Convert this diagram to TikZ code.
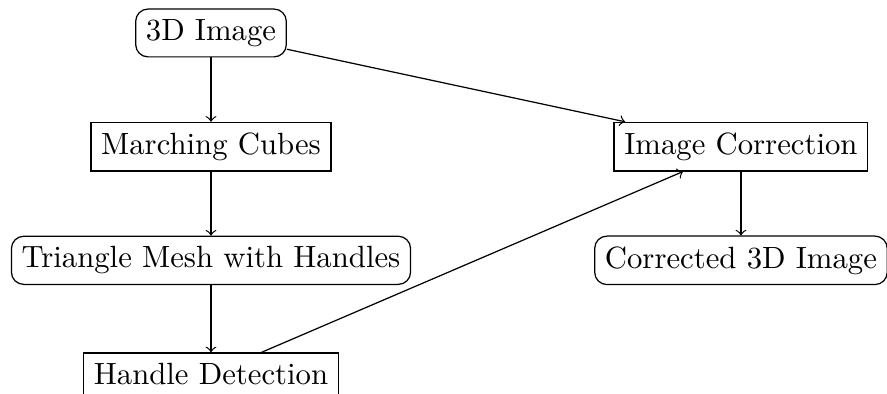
\documentclass[tikz,border=0pt]{standalone}
\usepackage{amsmath,amssymb}
\usepackage{tikz}

\begin{document}
\begin{tikzpicture}[data/.style={rectangle,draw,rounded corners},
    proc/.style={rectangle,draw}]
            \useasboundingbox (-2.413,0.377) rectangle (7.73,-4.128);
            % left column
            \node[data] (img) at (0,0) {3D Image};
            \node[proc] (mc) at (0,-1.3) {Marching Cubes};
            \node[data] (mesh) at (0,-2.6) {Triangle Mesh with Handles};
            \node[proc] (hd) at (0,-3.9) {Handle Detection};
            % right column
            \node[proc] (corr) at (6.06,-1.3) {Image Correction};
            \node[data] (out) at (6.06,-2.6) {Corrected 3D Image};
            \draw[->] (img) -- (mc);
            \draw[->] (mc) -- (mesh);
            \draw[->] (mesh) -- (hd);
            \draw[->] (img) -- (corr);
            \draw[->] (hd) -- (corr);
            \draw[->] (corr) -- (out);
        \end{tikzpicture}
\end{document}
